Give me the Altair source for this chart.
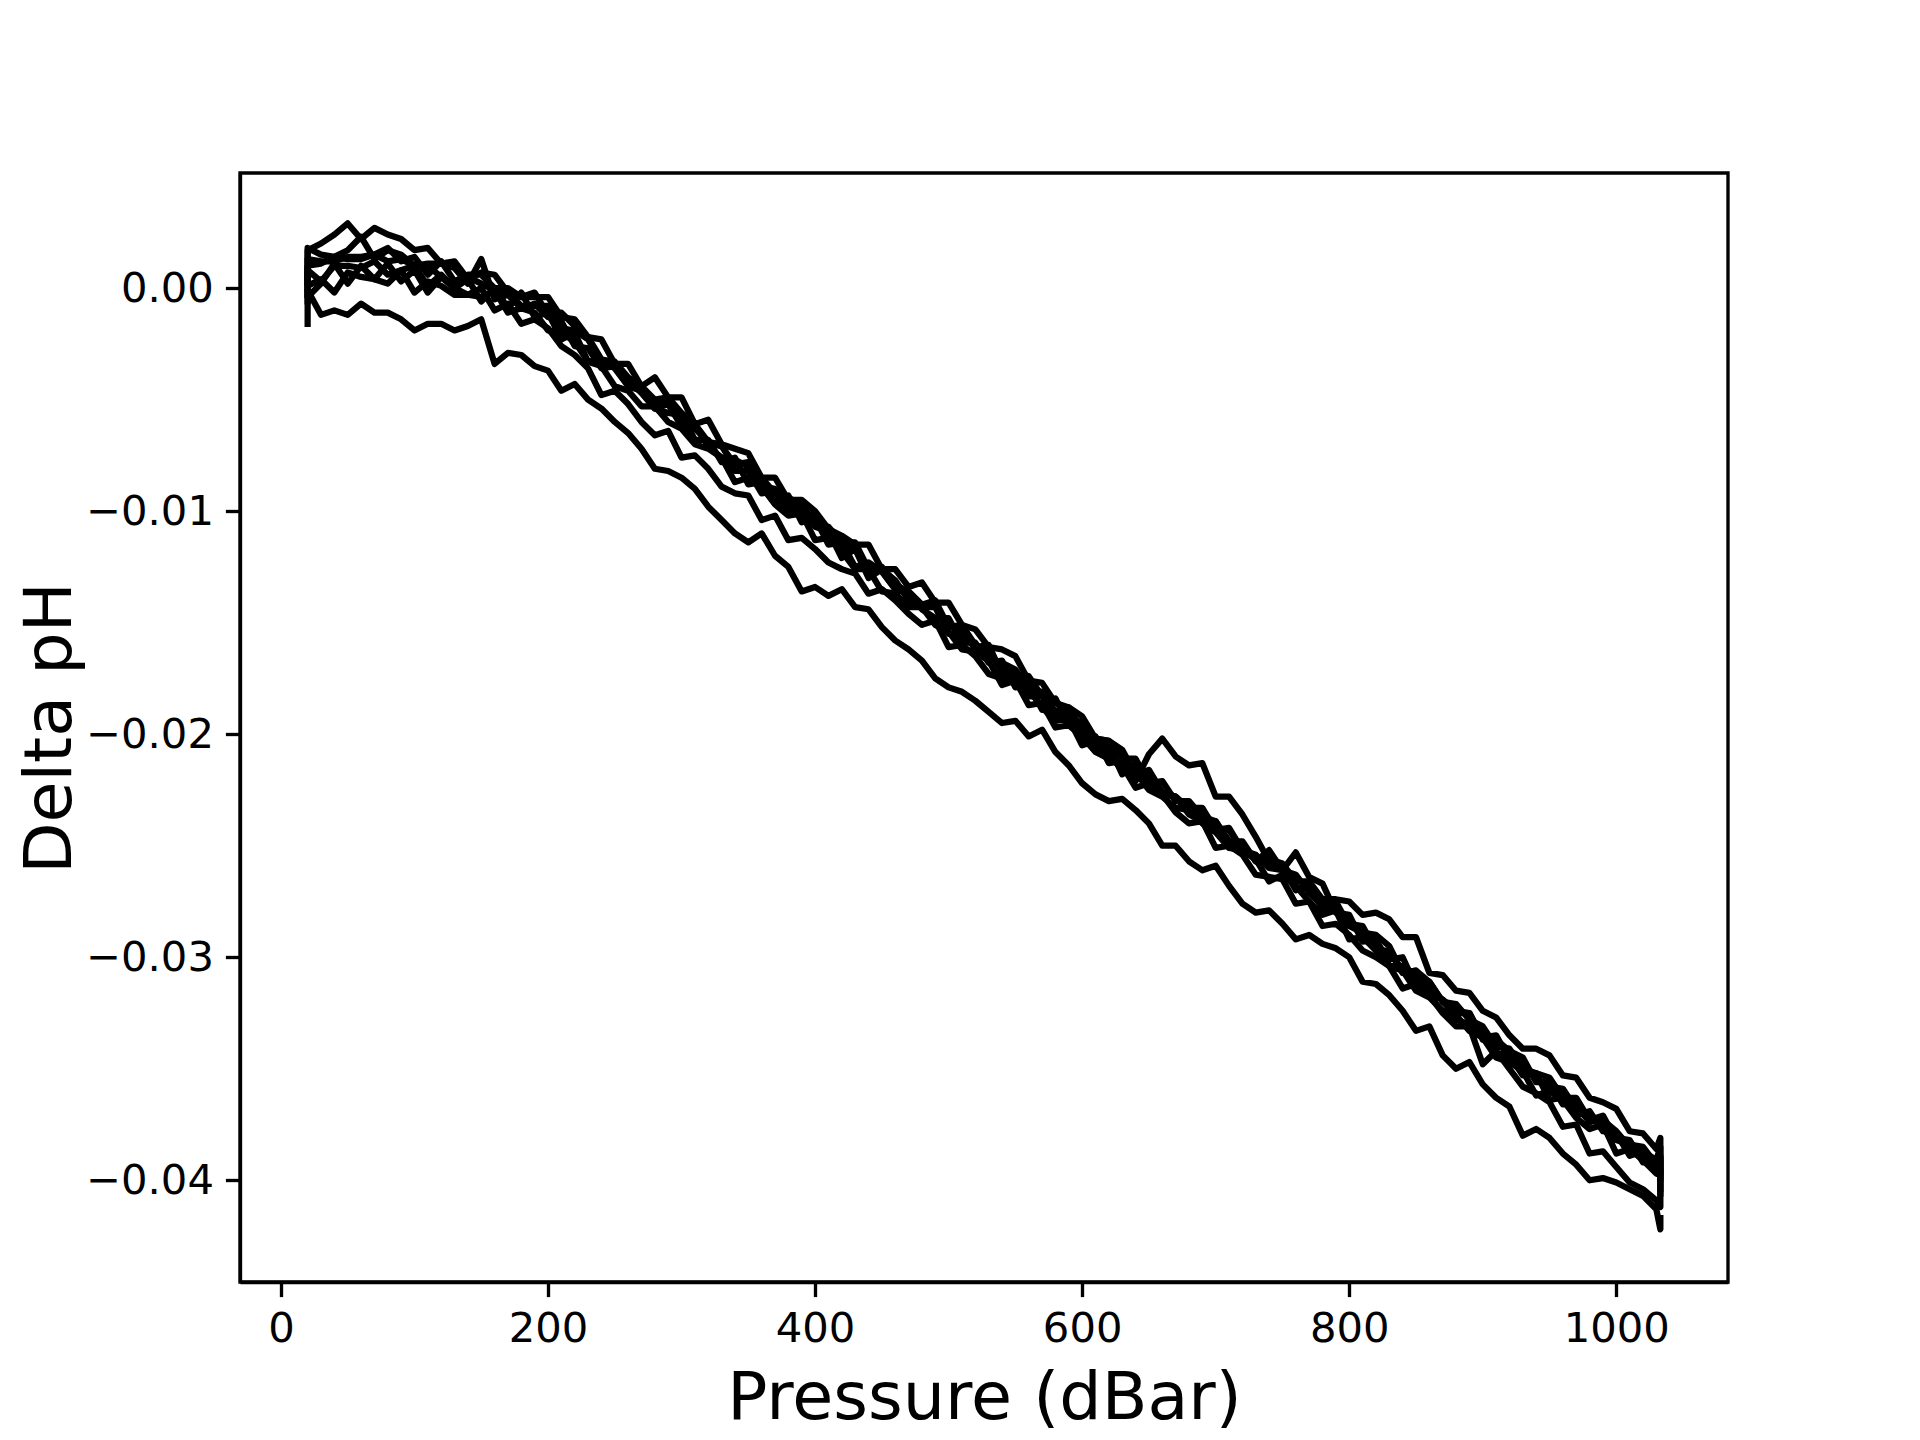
import altair as alt
import pandas as pd

# Pressure grid (dBar) shared by all profiles
pressure = [20, 20,
            30, 40, 50, 60, 70, 80, 90, 100, 110, 120,
            130, 140, 150, 160, 170, 180, 190, 200, 210, 220,
            230, 240, 250, 260, 270, 280, 290, 300, 310, 320,
            330, 340, 350, 360, 370, 380, 390, 400, 410, 420,
            430, 440, 450, 460, 470, 480, 490, 500, 510, 520,
            530, 540, 550, 560, 570, 580, 590, 600, 610, 620,
            630, 640, 650, 660, 670, 680, 690, 700, 710, 720,
            730, 740, 750, 760, 770, 780, 790, 800, 810, 820,
            830, 840, 850, 860, 870, 880, 890, 900, 910, 920,
            930, 940, 950, 960, 970, 980, 990, 1000, 1010, 1020,
            1030, 1033, 1033]

# Delta pH values, in units of 1e-4 pH
profile_1 = [-16, -1,
             -12, -10, -12, -7, -11, -11, -14, -19, -16, -16,
             -19, -17, -14, -34, -29, -30, -35, -37, -46, -43,
             -50, -54, -60, -65, -72, -81, -82, -85, -90, -98,
             -104, -110, -114, -110, -120, -125, -136, -134, -138, -135,
             -143, -144, -152, -158, -162, -167, -175, -179, -181, -185,
             -190, -195, -194, -201, -198, -208, -214, -222, -227, -230,
             -229, -234, -240, -250, -250, -257, -261, -259, -268, -276,
             -280, -279, -285, -292, -290, -294, -296, -300, -311, -312,
             -317, -324, -333, -331, -344, -350, -347, -357, -363, -367,
             -380, -377, -381, -388, -393, -400, -399, -401, -404, -407,
             -413, -422, -417]

profile_2 = [3, 17,
             20, 24, 29, 22, 27, 24, 22, 17, 18, 11,
             12, 4, 7, 6, -2, -4, -2, -12, -11, -17,
             -22, -32, -33, -40, -44, -50, -49, -56, -61, -69,
             -71, -79, -78, -85, -92, -94, -97, -106, -107, -114,
             -114, -126, -125, -133, -136, -142, -140, -152, -151, -160,
             -164, -171, -173, -174, -183, -190, -188, -199, -202, -203,
             -207, -218, -216, -226, -228, -233, -233, -243, -242, -252,
             -254, -260, -261, -263, -271, -277, -275, -286, -289, -290,
             -295, -307, -306, -315, -319, -324, -325, -336, -335, -346,
             -348, -355, -358, -359, -368, -373, -371, -382, -384, -385,
             -393, -389, -399]

profile_3 = [-3, 10,
             11, 14, 13, 13, 15, 18, 12, 14, 6, 12,
             3, 6, 6, 0, 0, -4, -4, -4, -13, -14,
             -22, -23, -34, -34, -44, -40, -49, -49, -61, -59,
             -70, -72, -74, -85, -85, -95, -95, -100, -108, -111,
             -115, -115, -126, -126, -134, -132, -141, -141, -151, -153,
             -161, -162, -165, -176, -177, -186, -188, -192, -202, -203,
             -211, -211, -222, -221, -230, -230, -237, -239, -248, -248,
             -257, -257, -259, -270, -268, -278, -278, -283, -290, -293,
             -301, -300, -313, -311, -320, -321, -328, -331, -340, -341,
             -350, -352, -354, -363, -363, -373, -373, -378, -385, -387,
             -391, -385, -396]

profile_4 = [4, 18,
             15, 14, 17, 23, 13, 17, 15, 10, 11, 11,
             9, 2, 13, -5, -3, -9, -7, -13, -15, -26,
             -27, -36, -35, -41, -47, -54, -52, -62, -63, -69,
             -70, -82, -82, -92, -91, -101, -97, -107, -109, -121,
             -117, -130, -126, -131, -140, -143, -143, -155, -155, -161,
             -160, -173, -173, -183, -183, -192, -191, -200, -201, -213,
             -212, -221, -209, -202, -210, -214, -213, -228, -228, -236,
             -246, -257, -260, -269, -269, -277, -277, -285, -286, -297,
             -297, -307, -306, -311, -320, -325, -325, -337, -337, -342,
             -345, -356, -356, -366, -366, -374, -372, -381, -382, -392,
             -391, -390, -401]

profile_5 = [-6, 8,
             3, 10, 10, 9, 12, 6, 8, 10, 1, 6,
             0, 4, -6, 0, -9, -2, -13, -11, -23, -20,
             -33, -32, -36, -44, -46, -54, -56, -57, -68, -68,
             -78, -76, -88, -87, -96, -93, -105, -103, -115, -114,
             -125, -123, -127, -135, -137, -144, -148, -148, -159, -159,
             -168, -167, -179, -178, -189, -184, -196, -196, -207, -205,
             -218, -213, -220, -226, -228, -236, -239, -239, -249, -249,
             -257, -252, -261, -253, -264, -267, -280, -281, -293, -292,
             -304, -304, -308, -317, -319, -328, -330, -333, -343, -344,
             -353, -352, -364, -363, -371, -369, -378, -379, -389, -387,
             -396, -393, -404]

profile_6 = [0, 13,
             12, 12, 14, 14, 15, 12, 13, 10, 10, 5,
             0, 5, 2, -1, -2, -8, -8, -8, -18, -19,
             -23, -33, -34, -43, -45, -51, -51, -59, -61, -71,
             -76, -77, -80, -89, -90, -98, -99, -103, -112, -114,
             -117, -125, -127, -135, -136, -142, -143, -151, -153, -162,
             -167, -168, -171, -180, -181, -190, -192, -195, -204, -205,
             -208, -217, -218, -227, -228, -234, -234, -242, -243, -252,
             -256, -256, -258, -266, -266, -274, -274, -275, -281, -280,
             -283, -291, -291, -307, -308, -315, -316, -324, -327, -335,
             -341, -341, -344, -353, -354, -363, -365, -368, -378, -379,
             -386, -381, -392]

profile_7 = [5, -4,
             2, 11, 2, 10, 4, 11, 3, 8, -2, 5,
             0, -3, -4, -1, -11, -9, -11, -19, -20, -24,
             -33, -35, -44, -46, -53, -53, -60, -63, -70, -72,
             -76, -87, -85, -89, -97, -102, -101, -113, -112, -118,
             -126, -126, -136, -137, -143, -143, -151, -154, -162, -163,
             -167, -178, -176, -180, -188, -194, -193, -205, -203, -209,
             -216, -217, -225, -228, -233, -234, -240, -244, -251, -252,
             -256, -266, -263, -268, -275, -281, -279, -292, -291, -297,
             -304, -306, -315, -318, -324, -326, -333, -336, -345, -347,
             -351, -362, -360, -364, -372, -377, -375, -388, -386, -391,
             -397, -395, -406]

profile_8 = [8, 1,
             4, -2, 7, 5, 4, 2, 8, -2, 3, 1,
             -3, -3, 0, -10, -7, -16, -14, -18, -26, -30,
             -36, -48, -46, -52, -60, -66, -64, -76, -75, -81,
             -89, -92, -93, -104, -102, -113, -112, -117, -123, -126,
             -128, -137, -135, -140, -146, -151, -149, -161, -160, -165,
             -173, -175, -176, -187, -186, -197, -196, -201, -208, -211,
             -214, -224, -222, -227, -235, -240, -239, -251, -250, -254,
             -263, -264, -265, -276, -275, -286, -285, -290, -297, -300,
             -304, -314, -312, -317, -325, -331, -331, -348, -342, -350,
             -358, -361, -365, -376, -375, -388, -387, -394, -401, -404,
             -409, -412, -404]

profiles = {
    "profile 1": profile_1, "profile 2": profile_2, "profile 3": profile_3,
    "profile 4": profile_4, "profile 5": profile_5, "profile 6": profile_6,
    "profile 7": profile_7, "profile 8": profile_8,
}

x_ticks = [0, 200, 400, 600, 800, 1000]
y_ticks = [0.0, -0.01, -0.02, -0.03, -0.04]

rows = []
for name, vals in profiles.items():
    assert len(vals) == len(pressure), (name, len(vals))
    for i, (p, v) in enumerate(zip(pressure, vals)):
        rows.append({"pressure": p, "dph": v / 10000.0, "profile": name, "idx": i})
df = pd.DataFrame(rows)

FONT = "DejaVu Sans"

chart = (
    alt.Chart(df)
    .mark_line(color="black", strokeWidth=6.25, strokeJoin="round", strokeCap="square", clip=True)
    .encode(
        x=alt.X("pressure:Q",
                scale=alt.Scale(domain=[-30.65, 1083.65], nice=False, zero=False),
                axis=alt.Axis(values=x_ticks, format="d", title="Pressure (dBar)",
                              titlePadding=15, labelPadding=12)),
        y=alt.Y("dph:Q",
                scale=alt.Scale(domain=[-0.04456, 0.00516], nice=False, zero=False),
                axis=alt.Axis(values=y_ticks, format=".2f", title="Delta pH",
                              titlePadding=1, labelPadding=12)),
        detail="profile:N",
        order="idx:Q",
    )
    .properties(
        width=1488,
        height=1109,
        padding={"left": 232, "top": 165, "right": 184, "bottom": 158},
        autosize=alt.AutoSizeParams(type="none"),
        background="white",
    )
    .configure_view(stroke="black", strokeWidth=3.33)
    .configure_axis(
        grid=False,
        domainColor="black", domainWidth=3.33,
        tickColor="black", tickWidth=3.33, tickSize=14.6,
        labelFont=FONT, labelFontSize=41.7, labelColor="black",
        titleFont=FONT, titleFontSize=66.7, titleFontWeight="normal", titleColor="black",
    )
)

chart.save("out.html", embed_options={"renderer": "svg", "actions": False})
